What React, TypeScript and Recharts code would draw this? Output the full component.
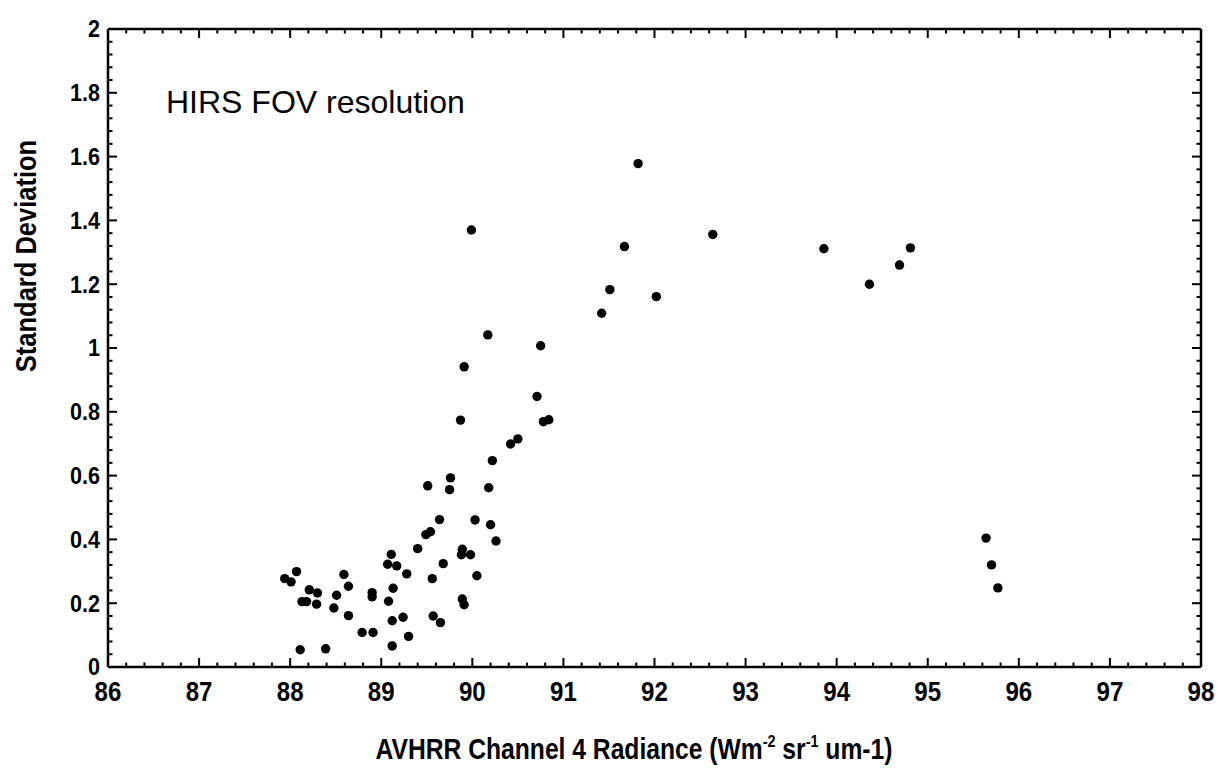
import React from "react";
import { ScatterChart, Scatter, XAxis, YAxis } from "recharts";

const X_TICKS = [86, 87, 88, 89, 90, 91, 92, 93, 94, 95, 96, 97, 98];
const Y_TICKS = [0, 0.2, 0.4, 0.6, 0.8, 1, 1.2, 1.4, 1.6, 1.8, 2];
const MINOR_STEPS = 5;

// AVHRR channel 4 radiance (x) and standard deviation (y), read point by point
const RADIANCE = [
  87.94, 88.01, 88.07, 88.11, 88.13, 88.18, 88.21, 88.3, 88.29, 88.39,
  88.48, 88.51, 88.59, 88.64, 88.64, 88.79, 88.91, 88.9, 88.9,
  89.11, 89.07, 89.17, 89.28, 89.13, 89.08, 89.12, 89.24, 89.12, 89.3,
  89.4, 89.49, 89.54, 89.51, 89.64, 89.68, 89.56, 89.57, 89.65,
  89.76, 89.75, 89.87, 89.89, 89.88, 89.98, 89.89, 89.91,
  90.03, 90.05, 90.18, 90.2, 90.26, 90.22, 90.42, 90.5, 90.71, 90.78, 90.84,
  91.82, 89.99, 92.64, 91.67, 91.51, 92.02, 91.42, 90.17, 90.75, 89.91,
  93.86, 94.81, 94.69, 94.36,
  95.64, 95.7, 95.77,
];
const STD_DEV = [
  0.277, 0.267, 0.299, 0.054, 0.205, 0.205, 0.242, 0.232, 0.197, 0.057,
  0.185, 0.225, 0.29, 0.253, 0.161, 0.108, 0.108, 0.233, 0.22,
  0.353, 0.322, 0.317, 0.292, 0.247, 0.206, 0.145, 0.156, 0.066, 0.096,
  0.371, 0.415, 0.424, 0.568, 0.462, 0.324, 0.277, 0.16, 0.139,
  0.593, 0.556, 0.774, 0.369, 0.352, 0.352, 0.213, 0.195,
  0.461, 0.286, 0.562, 0.446, 0.395, 0.647, 0.699, 0.715, 0.848, 0.769, 0.775,
  1.578, 1.37, 1.356, 1.318, 1.183, 1.161, 1.109, 1.041, 1.007, 0.941,
  1.311, 1.314, 1.26, 1.2,
  0.404, 0.32, 0.248,
];

const data = RADIANCE.map((x, i) => ({ x, y: STD_DEV[i] }));

function withMinor(major: number[], steps: number) {
  const out: number[] = [];
  for (let i = 0; i < major.length - 1; i++) {
    const a = major[i];
    const b = major[i + 1];
    for (let k = 0; k < steps; k++) out.push(+(a + ((b - a) * k) / steps).toFixed(4));
  }
  out.push(major[major.length - 1]);
  return out;
}

const isMajor = (v: number, major: number[]) => major.some((m) => Math.abs(m - v) < 1e-6);

const X_ALL = withMinor(X_TICKS, MINOR_STEPS);
const Y_ALL = withMinor(Y_TICKS, MINOR_STEPS);

const MAJOR_LEN = 9;
const MINOR_LEN = 4.5;
// no condensed face installed, so squeeze a bold sans horizontally
const BOLD = { fontFamily: '"Liberation Sans", Arial, sans-serif', fontWeight: 700, fill: "#000" };

function BottomTick({ x, y, payload }: any) {
  const major = isMajor(payload.value, X_TICKS);
  return (
    <g>
      <line x1={x} x2={x} y1={y} y2={y - (major ? MAJOR_LEN : MINOR_LEN)} stroke="#000" strokeWidth={2} />
      {major && (
        <text transform={`translate(${x} ${y + 34}) scale(0.86 1)`} textAnchor="middle" fontSize={28} style={BOLD}>
          {payload.value}
        </text>
      )}
    </g>
  );
}

function TopTick({ x, y, payload }: any) {
  const major = isMajor(payload.value, X_TICKS);
  return <line x1={x} x2={x} y1={y} y2={y + (major ? MAJOR_LEN : MINOR_LEN)} stroke="#000" strokeWidth={2} />;
}

function LeftTick({ x, y, payload }: any) {
  const major = isMajor(payload.value, Y_TICKS);
  return (
    <g>
      <line x1={x} x2={x + (major ? MAJOR_LEN : MINOR_LEN)} y1={y} y2={y} stroke="#000" strokeWidth={2} />
      {major && (
        <text
          transform={`translate(${x - 8} ${y}) scale(0.9 1)`}
          textAnchor="end"
          dominantBaseline="central"
          fontSize={24}
          style={BOLD}
        >
          {Number(payload.value.toFixed(1))}
        </text>
      )}
    </g>
  );
}

function RightTick({ x, y, payload }: any) {
  const major = isMajor(payload.value, Y_TICKS);
  return <line x1={x} x2={x - (major ? MAJOR_LEN : MINOR_LEN)} y1={y} y2={y} stroke="#000" strokeWidth={2} />;
}

const axisLine = { stroke: "#000", strokeWidth: 2.5 };

const commonX = {
  type: "number" as const,
  dataKey: "x",
  domain: [86, 98],
  ticks: X_ALL,
  interval: 0,
  allowDataOverflow: true,
  height: 1,
  tickSize: 0,
  tickMargin: 0,
  tickLine: false,
  axisLine,
};

const commonY = {
  type: "number" as const,
  dataKey: "y",
  domain: [0, 2],
  ticks: Y_ALL,
  interval: 0,
  allowDataOverflow: true,
  width: 1,
  tickSize: 0,
  tickMargin: 0,
  tickLine: false,
  axisLine,
};

export default function App() {
  return (
    <div style={{ position: "absolute", left: 0, top: 0, width: 1225, height: 774, background: "#fff" }}>
      <ScatterChart width={1225} height={774} margin={{ top: 28, right: 23, bottom: 106, left: 107 }}>
        <XAxis xAxisId="bottom" {...commonX} tick={BottomTick} />
        <XAxis xAxisId="top" orientation="top" {...commonX} tick={TopTick} />
        <YAxis yAxisId="left" {...commonY} tick={LeftTick} />
        <YAxis yAxisId="right" orientation="right" {...commonY} tick={RightTick} />
        <Scatter
          xAxisId="bottom"
          yAxisId="left"
          data={data}
          fill="#000"
          isAnimationActive={false}
          shape={(p: any) => <circle cx={p.cx} cy={p.cy} r={4.7} fill="#000" />}
        />
        <Scatter xAxisId="top" yAxisId="right" data={data} isAnimationActive={false} shape={() => <g />} />
      </ScatterChart>
      <svg width={1225} height={774} style={{ position: "absolute", left: 0, top: 0, pointerEvents: "none" }}>
        <text x={166} y={113} fontSize={32} fontFamily='"Liberation Sans", Arial, sans-serif' fill="#000">
          HIRS FOV resolution
        </text>
        <text
          transform="translate(26 256) rotate(-90) scale(0.85 1)"
          textAnchor="middle"
          dominantBaseline="central"
          fontSize={30}
          style={BOLD}
        >
          Standard Deviation
        </text>
        <text transform="translate(634 759) scale(0.85 1)" textAnchor="middle" fontSize={29} style={BOLD}>
          AVHRR Channel 4 Radiance (Wm
          <tspan dy={-12} fontSize={17}>-2</tspan>
          <tspan dy={12}> sr</tspan>
          <tspan dy={-12} fontSize={17}>-1</tspan>
          <tspan dy={12}> um-1)</tspan>
        </text>
      </svg>
    </div>
  );
}
